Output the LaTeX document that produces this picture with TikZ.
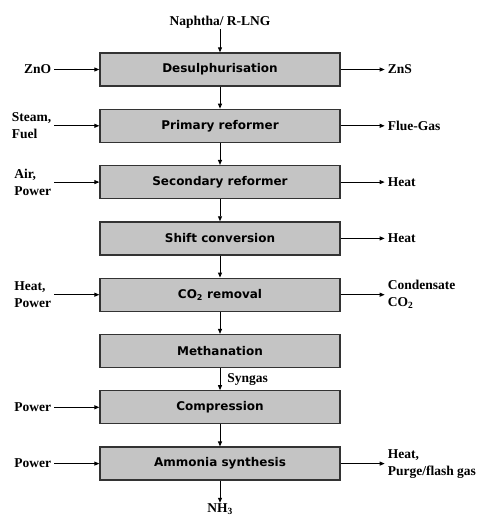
\documentclass[tikz,border=0pt]{standalone}
\usepackage{fontspec}
\setmainfont{Liberation Serif}
\newfontfamily\unitfont{DejaVu Sans}
\usetikzlibrary{positioning,arrows.meta}

\tikzset{
	unit/.style={draw=black!80, line width=1.3pt, fill=black!23, minimum width=240pt, minimum height=33pt, font=\unitfont\bfseries\fontsize{12}{14}\selectfont},
	feed/.style={font=\bfseries\fontsize{13.5}{17}\selectfont, align=left, inner sep=1pt},
	flow/.style={-{Triangle[length=5pt,width=4pt]}, line width=0.9pt},
}

\begin{document}
\begin{tikzpicture}
					\useasboundingbox (0,0) rectangle (480pt,-521pt);
					
					\node[unit] (desulph) at (220pt,-69.5pt) {Desulphurisation};
					\node[unit, below=22pt of desulph] (primary) {Primary reformer};
					\node[unit, below=22pt of primary] (secondary) {Secondary reformer};
					\node[unit, below=22pt of secondary] (shift) {Shift conversion};
					\node[unit, below=22pt of shift] (coremoval) {CO\textsubscript{2} removal};
					\node[unit, below=22pt of coremoval] (methan) {Methanation};
					\node[unit, below=22pt of methan] (compress) {Compression};
					\node[unit, below=22pt of compress] (synth) {Ammonia synthesis};
					
					\node[feed, above=23pt of desulph] (naphtha) {Naphtha/ R-LNG};
					\node[feed, below=22pt of synth] (nh3) {NH\textsubscript{3}};
					
					\node[feed, inner xsep=3pt, left=45pt of desulph.west] (zno) {ZnO};
					\node[feed, inner xsep=3pt, left=45pt of primary.west] (steam) {Steam,\\Fuel};
					\node[feed, inner xsep=3pt, left=45pt of secondary.west] (air) {Air,\\Power};
					\node[feed, inner xsep=3pt, left=45pt of coremoval.west] (heatin) {Heat,\\Power};
					\node[feed, inner xsep=3pt, left=45pt of compress.west] (powera) {Power};
					\node[feed, inner xsep=3pt, left=45pt of synth.west] (powerb) {Power};
					
					\node[feed, inner xsep=3pt, right=44pt of desulph.east] (zns) {ZnS};
					\node[feed, inner xsep=3pt, right=44pt of primary.east] (flue) {Flue-Gas};
					\node[feed, inner xsep=3pt, right=44pt of secondary.east] (heata) {Heat};
					\node[feed, inner xsep=3pt, right=44pt of shift.east] (heatb) {Heat};
					\node[feed, inner xsep=3pt, right=44pt of coremoval.east] (cond) {Condensate\\CO\textsubscript{2}};
					\node[feed, inner xsep=3pt, right=44pt of synth.east] (purge) {Heat,\\Purge/flash gas};
					
					\draw[flow] (naphtha) -- (desulph);
					\draw[flow] (desulph) -- (primary);
					\draw[flow] (primary) -- (secondary);
					\draw[flow] (secondary) -- (shift);
					\draw[flow] (shift) -- (coremoval);
					\draw[flow] (coremoval) -- (methan);
					\draw[flow] (methan) -- node[feed, right=6pt] (syngas) {Syngas} (compress);
					\draw[flow] (compress) -- (synth);
					\draw[flow] (synth) -- (nh3);
					
					\draw[flow] (zno) -- (desulph);
					\draw[flow] (steam) -- (primary);
					\draw[flow] (air) -- (secondary);
					\draw[flow] (heatin) -- (coremoval);
					\draw[flow] (powera) -- (compress);
					\draw[flow] (powerb) -- (synth);
					
					\draw[flow] (desulph) -- (zns);
					\draw[flow] (primary) -- (flue);
					\draw[flow] (secondary) -- (heata);
					\draw[flow] (shift) -- (heatb);
					\draw[flow] (coremoval) -- (cond);
					\draw[flow] (synth) -- (purge);
					
				\end{tikzpicture}
\end{document}
